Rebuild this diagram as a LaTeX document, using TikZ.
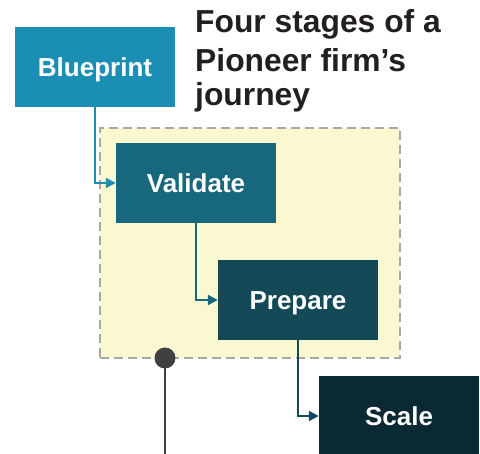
\documentclass[tikz,border=0pt]{standalone}
\usepackage{fontspec}
\setmainfont{Liberation Sans}
\usetikzlibrary{arrows.meta}

\definecolor{cBlue}{HTML}{1B8FB3}
\definecolor{cTeal}{HTML}{17687D}
\definecolor{cDeep}{HTML}{144A57}
\definecolor{cNavy}{HTML}{0B2933}
\definecolor{cZone}{HTML}{FAF8D1}
\definecolor{cZoneLine}{HTML}{A8A8A8}
\definecolor{cInk}{HTML}{231F20}
\definecolor{cPin}{HTML}{404040}

\tikzset{
  stagebox/.style={draw=none, fill=#1, minimum width=160pt, minimum height=80pt,
    inner sep=0pt, text=white, font=\bfseries\fontsize{26}{30}\selectfont,
    text height=18.6pt, text depth=0pt},
  flow/.style={draw=#1, line width=2.2pt,
    -{Triangle[length=10pt, width=10pt]}},
  headline/.style={anchor=base west, inner sep=0pt, text=cInk,
    font=\bfseries\fontsize{31.8}{37}\selectfont},
}

\begin{document}
\begin{tikzpicture}[x=1pt, y=-1pt]
  \useasboundingbox (0,0) rectangle (480,454);
  \clip (0,0) rectangle (480,454);

  % shaded zone around the middle stages
  \node (zone) [draw=cZoneLine, fill=cZone, line width=2pt,
    dash pattern=on 9pt off 5pt, inner sep=0pt,
    minimum width=300pt, minimum height=230pt] at (250,243) {};

  % title
  \node (title1) [headline] at (195,33) {Four stages of a};
  \node (title2) [headline] at (195,72) {Pioneer firm’s};
  \node (title3) [headline] at (195,106) {journey};

  % stages
  \node (blue) [stagebox=cBlue] at (95,67) {Blueprint};
  \node (val)  [stagebox=cTeal] at (196,183) {Validate};
  \node (prep) [stagebox=cDeep] at (298,300) {Prepare};
  \node (scale)[stagebox=cNavy] at (399,416) {Scale};

  % connectors between stages
  \draw[flow=cBlue] (blue.south) |- (val.west);
  \draw[flow=cTeal] (val.south) |- (prep.west);
  \draw[flow=cDeep] (prep.south) |- (scale.west);

  % pin on the zone edge
  \coordinate (pinfoot) at (165,460);
  \node (pin) [circle, fill=cPin, minimum size=21pt, inner sep=0pt] at (165,358) {};
  \draw[cPin, line width=2.2pt] (pin.center) -- (pinfoot);
\end{tikzpicture}
\end{document}
